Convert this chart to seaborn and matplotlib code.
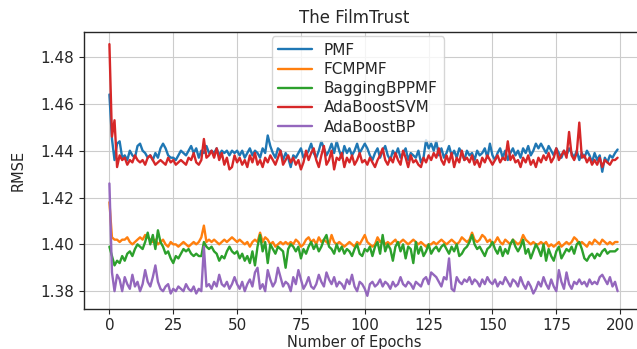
import numpy as np
import pandas as pd
import matplotlib
matplotlib.use("Agg")
import matplotlib.pyplot as plt
import seaborn as sns

epochs = list(range(200))

pmf = [
    1.464, 1.445, 1.436, 1.443, 1.444, 1.437, 1.438, 1.436, 1.440, 1.438,
    1.437, 1.442, 1.443, 1.440, 1.439, 1.437, 1.438, 1.436, 1.439, 1.437,
    1.441, 1.443, 1.441, 1.438, 1.437, 1.437, 1.436, 1.438, 1.440, 1.439,
    1.438, 1.440, 1.442, 1.439, 1.441, 1.437, 1.440, 1.439, 1.442, 1.439,
    1.440, 1.439, 1.441, 1.438, 1.440, 1.439, 1.440, 1.438, 1.440, 1.439,
    1.440, 1.438, 1.440, 1.437, 1.439, 1.441, 1.438, 1.440, 1.439, 1.437,
    1.441, 1.439, 1.4465, 1.442, 1.439, 1.437, 1.441, 1.440, 1.436, 1.439,
    1.437, 1.433, 1.438, 1.437, 1.439, 1.441, 1.437, 1.438, 1.440, 1.443,
    1.439, 1.437, 1.440, 1.444, 1.441, 1.438, 1.440, 1.443, 1.439, 1.444,
    1.440, 1.437, 1.442, 1.439, 1.441, 1.438, 1.440, 1.443, 1.439, 1.441,
    1.443, 1.441, 1.438, 1.436, 1.439, 1.441, 1.437, 1.440, 1.442, 1.438,
    1.436, 1.440, 1.438, 1.441, 1.437, 1.439, 1.441, 1.436, 1.439, 1.438,
    1.437, 1.440, 1.435, 1.437, 1.4445, 1.441, 1.443, 1.440, 1.444, 1.438,
    1.441, 1.437, 1.439, 1.442, 1.438, 1.440, 1.437, 1.441, 1.439, 1.436,
    1.440, 1.438, 1.439, 1.436, 1.440, 1.438, 1.439, 1.441, 1.437, 1.443,
    1.438, 1.436, 1.439, 1.441, 1.437, 1.440, 1.436, 1.439, 1.441, 1.438,
    1.440, 1.437, 1.441, 1.439, 1.442, 1.438, 1.440, 1.443, 1.441, 1.443,
    1.441, 1.439, 1.442, 1.440, 1.438, 1.441, 1.439, 1.437, 1.440, 1.438,
    1.441, 1.439, 1.437, 1.440, 1.436, 1.439, 1.437, 1.440, 1.438, 1.435,
    1.439, 1.436, 1.438, 1.431, 1.437, 1.435, 1.438, 1.437, 1.439, 1.4405,
]

fcmpmf = [
    1.418, 1.403, 1.402, 1.402, 1.401, 1.402, 1.402, 1.403, 1.401, 1.400,
    1.401, 1.402, 1.403, 1.402, 1.404, 1.403, 1.402, 1.401, 1.402, 1.400,
    1.401, 1.402, 1.400, 1.399, 1.401, 1.400, 1.400, 1.399, 1.400, 1.401,
    1.400, 1.399, 1.400, 1.401, 1.400, 1.401, 1.403, 1.408, 1.401, 1.402,
    1.401, 1.402, 1.401, 1.400, 1.401, 1.402, 1.401, 1.402, 1.403, 1.402,
    1.401, 1.402, 1.401, 1.400, 1.401, 1.399, 1.401, 1.402, 1.401, 1.405,
    1.401, 1.403, 1.402, 1.400, 1.401, 1.399, 1.400, 1.401, 1.400, 1.401,
    1.400, 1.401, 1.400, 1.402, 1.401, 1.399, 1.400, 1.402, 1.403, 1.401,
    1.402, 1.400, 1.403, 1.401, 1.402, 1.401, 1.400, 1.404, 1.401, 1.400,
    1.401, 1.400, 1.399, 1.400, 1.401, 1.400, 1.399, 1.401, 1.400, 1.402,
    1.404, 1.401, 1.400, 1.399, 1.400, 1.403, 1.401, 1.402, 1.400, 1.401,
    1.400, 1.401, 1.402, 1.400, 1.401, 1.402, 1.401, 1.400, 1.401, 1.402,
    1.401, 1.400, 1.401, 1.400, 1.399, 1.400, 1.400, 1.401, 1.400, 1.401,
    1.402, 1.401, 1.400, 1.401, 1.402, 1.401, 1.400, 1.401, 1.403, 1.402,
    1.401, 1.402, 1.405, 1.402, 1.401, 1.402, 1.404, 1.403, 1.401, 1.402,
    1.400, 1.401, 1.403, 1.401, 1.400, 1.402, 1.401, 1.400, 1.402, 1.401,
    1.400, 1.401, 1.404, 1.402, 1.401, 1.400, 1.401, 1.400, 1.400, 1.401,
    1.400, 1.401, 1.399, 1.400, 1.399, 1.400, 1.401, 1.399, 1.400, 1.401,
    1.400, 1.401, 1.403, 1.402, 1.400, 1.401, 1.400, 1.399, 1.401, 1.400,
    1.402, 1.401, 1.400, 1.402, 1.401, 1.400, 1.401, 1.400, 1.401, 1.401,
]

baggingbppmf = [
    1.399, 1.395, 1.391, 1.393, 1.392, 1.395, 1.393, 1.396, 1.397, 1.395,
    1.398, 1.400, 1.399, 1.398, 1.401, 1.405, 1.400, 1.404, 1.398, 1.406,
    1.401, 1.399, 1.396, 1.397, 1.394, 1.392, 1.395, 1.394, 1.396, 1.398,
    1.397, 1.398, 1.396, 1.395, 1.396, 1.395, 1.395, 1.401, 1.399, 1.398,
    1.399, 1.397, 1.396, 1.393, 1.395, 1.394, 1.397, 1.399, 1.397, 1.396,
    1.397, 1.394, 1.396, 1.393, 1.395, 1.392, 1.397, 1.391, 1.399, 1.404,
    1.397, 1.401, 1.392, 1.400, 1.398, 1.396, 1.399, 1.398, 1.397, 1.390,
    1.398, 1.400, 1.399, 1.397, 1.399, 1.394, 1.398, 1.396, 1.399, 1.401,
    1.398, 1.400, 1.397, 1.399, 1.402, 1.404, 1.399, 1.398, 1.396, 1.400,
    1.397, 1.399, 1.396, 1.398, 1.397, 1.395, 1.398, 1.400, 1.396, 1.395,
    1.398, 1.397, 1.399, 1.395, 1.399, 1.401, 1.396, 1.404, 1.397, 1.400,
    1.398, 1.393, 1.399, 1.401, 1.397, 1.400, 1.394, 1.399, 1.398, 1.392,
    1.401, 1.396, 1.399, 1.395, 1.397, 1.400, 1.396, 1.398, 1.399, 1.397,
    1.399, 1.400, 1.398, 1.396, 1.399, 1.397, 1.400, 1.395, 1.396, 1.398,
    1.399, 1.401, 1.404, 1.400, 1.398, 1.399, 1.397, 1.395, 1.398, 1.399,
    1.401, 1.398, 1.396, 1.399, 1.395, 1.398, 1.396, 1.400, 1.402, 1.399,
    1.397, 1.399, 1.402, 1.396, 1.398, 1.394, 1.397, 1.400, 1.398, 1.395,
    1.400, 1.393, 1.398, 1.395, 1.393, 1.397, 1.399, 1.394, 1.396, 1.398,
    1.397, 1.399, 1.396, 1.400, 1.401, 1.398, 1.394, 1.393, 1.395, 1.396,
    1.394, 1.396, 1.395, 1.397, 1.398, 1.396, 1.397, 1.397, 1.397, 1.398,
]

adaboostsvm = [
    1.4855, 1.446, 1.453, 1.433, 1.438, 1.436, 1.437, 1.434, 1.436, 1.435,
    1.438, 1.436, 1.435, 1.436, 1.434, 1.437, 1.438, 1.436, 1.434, 1.435,
    1.436, 1.435, 1.434, 1.437, 1.435, 1.436, 1.434, 1.435, 1.436, 1.435,
    1.434, 1.437, 1.436, 1.439, 1.435, 1.434, 1.436, 1.445, 1.437, 1.438,
    1.440, 1.437, 1.441, 1.436, 1.439, 1.434, 1.437, 1.432, 1.433, 1.438,
    1.435, 1.437, 1.434, 1.436, 1.433, 1.438, 1.435, 1.439, 1.434, 1.436,
    1.433, 1.437, 1.435, 1.438, 1.436, 1.434, 1.437, 1.440, 1.434, 1.436,
    1.438, 1.435, 1.437, 1.434, 1.436, 1.432, 1.435, 1.440, 1.436, 1.439,
    1.441, 1.436, 1.433, 1.438, 1.442, 1.434, 1.436, 1.440, 1.432, 1.437,
    1.436, 1.439, 1.433, 1.437, 1.435, 1.438, 1.434, 1.436, 1.439, 1.435,
    1.436, 1.434, 1.437, 1.435, 1.433, 1.436, 1.438, 1.441, 1.436, 1.434,
    1.437, 1.435, 1.439, 1.436, 1.434, 1.440, 1.437, 1.433, 1.438, 1.435,
    1.436, 1.434, 1.433, 1.437, 1.435, 1.438, 1.436, 1.439, 1.437, 1.441,
    1.436, 1.434, 1.438, 1.435, 1.439, 1.433, 1.437, 1.435, 1.440, 1.436,
    1.437, 1.435, 1.438, 1.434, 1.436, 1.433, 1.437, 1.435, 1.438, 1.436,
    1.434, 1.436, 1.438, 1.435, 1.437, 1.436, 1.444, 1.436, 1.438, 1.435,
    1.436, 1.433, 1.437, 1.435, 1.438, 1.434, 1.436, 1.433, 1.437, 1.435,
    1.438, 1.436, 1.439, 1.435, 1.437, 1.441, 1.436, 1.438, 1.440, 1.437,
    1.448, 1.438, 1.436, 1.439, 1.452, 1.437, 1.438, 1.435, 1.437, 1.434,
    1.436, 1.434, 1.437, 1.433, 1.436, 1.435, 1.434, 1.436, 1.436, 1.437,
]

adaboostbp = [
    1.426, 1.388, 1.380, 1.387, 1.385, 1.380, 1.386, 1.383, 1.381, 1.387,
    1.382, 1.384, 1.380, 1.383, 1.389, 1.384, 1.382, 1.386, 1.391, 1.384,
    1.381, 1.380, 1.382, 1.383, 1.379, 1.381, 1.380, 1.382, 1.381, 1.380,
    1.383, 1.381, 1.380, 1.382, 1.379, 1.381, 1.380, 1.399, 1.382, 1.383,
    1.381, 1.384, 1.382, 1.387, 1.383, 1.382, 1.384, 1.381, 1.383, 1.386,
    1.383, 1.381, 1.384, 1.380, 1.383, 1.385, 1.382, 1.388, 1.390, 1.381,
    1.383, 1.380, 1.389, 1.385, 1.382, 1.384, 1.390, 1.386, 1.382, 1.384,
    1.383, 1.380, 1.386, 1.383, 1.389, 1.385, 1.381, 1.383, 1.386, 1.382,
    1.381, 1.383, 1.387, 1.384, 1.382, 1.388, 1.385, 1.383, 1.386, 1.382,
    1.384, 1.383, 1.381, 1.385, 1.383, 1.387, 1.382, 1.380, 1.384, 1.383,
    1.381, 1.378, 1.383, 1.384, 1.382, 1.383, 1.385, 1.382, 1.384, 1.383,
    1.381, 1.384, 1.382, 1.383, 1.386, 1.383, 1.382, 1.384, 1.383, 1.381,
    1.384, 1.383, 1.382, 1.385, 1.386, 1.383, 1.388, 1.387, 1.386, 1.384,
    1.382, 1.386, 1.385, 1.394, 1.381, 1.380, 1.386, 1.384, 1.383, 1.385,
    1.384, 1.386, 1.383, 1.385, 1.384, 1.382, 1.385, 1.383, 1.386, 1.384,
    1.383, 1.385, 1.382, 1.384, 1.383, 1.386, 1.384, 1.382, 1.385, 1.384,
    1.382, 1.386, 1.383, 1.381, 1.384, 1.382, 1.379, 1.381, 1.384, 1.382,
    1.386, 1.383, 1.381, 1.385, 1.382, 1.380, 1.389, 1.384, 1.381, 1.388,
    1.383, 1.381, 1.384, 1.383, 1.385, 1.383, 1.384, 1.382, 1.385, 1.383,
    1.384, 1.383, 1.386, 1.387, 1.385, 1.383, 1.386, 1.382, 1.384, 1.380,
]

series_names = ["PMF", "FCMPMF", "BaggingBPPMF", "AdaBoostSVM", "AdaBoostBP"]
series_values = [pmf, fcmpmf, baggingbppmf, adaboostsvm, adaboostbp]
x_ticks = [0, 25, 50, 75, 100, 125, 150, 175, 200]
y_ticks = [1.38, 1.40, 1.42, 1.44, 1.46, 1.48]
y_tick_labels = ["1.38", "1.40", "1.42", "1.44", "1.46", "1.48"]

frames = []
for name, vals in zip(series_names, series_values):
    frames.append(pd.DataFrame({"epoch": epochs, "rmse": vals, "model": name}))
df = pd.concat(frames, ignore_index=True)

sns.set_style("whitegrid", {
    "axes.edgecolor": "0.15",
    "grid.color": "0.8",
    "xtick.bottom": True,
    "ytick.left": True,
})
plt.rcParams['font.family'] = ['DejaVu Sans']

fig = plt.figure(figsize=(6.37, 3.49), dpi=100)
ax = fig.add_axes([84 / 637, 40.5 / 349, 559 / 637, 277 / 349])

palette = ["#1f77b4", "#ff7f0e", "#2ca02c", "#d62728", "#9467bd"]
sns.lineplot(data=df, x="epoch", y="rmse", hue="model", hue_order=series_names,
             palette=palette, linewidth=1.7, ax=ax)

ax.set_xlim(-9.95, 208.95)
ax.set_ylim(1.3726, 1.4909)
ax.set_xticks(x_ticks)
ax.set_yticks(y_ticks)
ax.set_yticklabels(y_tick_labels)
ax.tick_params(labelsize=11, length=3.5, width=0.8, color="0.15")
ax.set_xlabel("Number of Epochs", fontsize=10.5)
ax.set_ylabel("RMSE", fontsize=10.5)
ax.xaxis.set_label_coords(0.483, -0.094)
ax.yaxis.set_label_coords(-0.104, 0.5)
ax.set_title("The FilmTrust", fontsize=12, x=0.483)
for sp in ax.spines.values():
    sp.set_linewidth(1.0)

leg = ax.legend(loc="upper left", bbox_to_anchor=(0.336, 0.982), borderaxespad=0,
                fontsize=11, frameon=True, handlelength=2.2, labelspacing=0.28)
leg.get_frame().set_edgecolor("0.8")

fig.savefig("out.png", dpi=100)
